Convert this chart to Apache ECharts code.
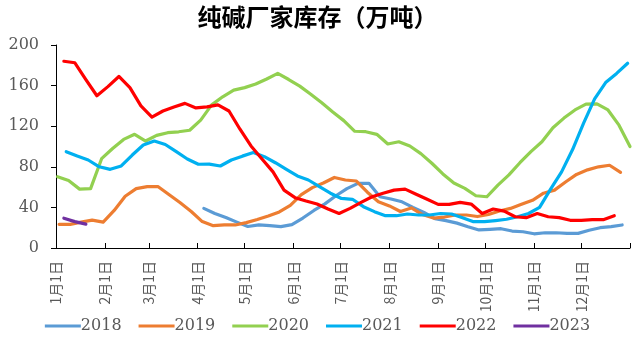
<!DOCTYPE html>
<html>
<head>
<meta charset="utf-8">
<script src="https://cdn.jsdelivr.net/npm/echarts@6/dist/echarts.min.js"></script>
<style>
html,body{margin:0;padding:0;background:#fff;}
#main{width:635px;height:346px;}
</style>
</head>
<body>
<div id="main"></div>
<script>
// ---- data ----
const titleText = '纯碱厂家库存（万吨）';
const monthLabels = ['1月1日','2月1日','3月1日','4月1日','5月1日','6月1日','7月1日','8月1日','9月1日','10月1日','11月1日','12月1日'];
const monthStartDays = [0,31,59,90,120,151,181,212,243,273,304,334];
const yearEndDay = 365;
const seriesNames = ['2018','2019','2020','2021','2022','2023'];

// first week's day-of-year for each year; weekly values follow
const start2018 = 94;
const values2018 = [39,34,30,25.5,21.2,22.7,22,21,23,29.5,37,43.5,51.5,58.5,63.7,63.7,50.5,48.3,45.5,40,35,29,27,24.5,21,17.8,18.4,19,16.7,16,14,15,15,14.5,14.4,17.5,20,21,22.7];

const start2019 = 2;
const values2019 = [23.3,23.3,25.5,27.5,25.5,37,51,58.5,60.4,60.4,52.5,44.5,36,26,22,22.7,22.7,25,28,31.5,35.5,42,52.5,59.5,64,69.5,67,66,55,45.5,41.5,36,39.5,33,29.5,30.5,32.5,32.5,31,33,36.5,39,43,47,54,57,65,72.5,77,80,81.5,74.5];

const start2020 = 1;
const values2020 = [70.2,66.5,58,58.5,88,98,107,112,105.4,111,113.6,114.5,116,126,141,149,155.5,158,161.5,166.5,172,166,159.5,151.5,143,134,125.5,115,114.6,112,102.5,104.7,100.5,93,83.5,73,64,58.8,51.5,50.5,62,72,84,95,104.7,118.5,128,136,141.8,142,136,121,100];

const start2021 = 6.5;
const values2021 = [94.9,90.6,86.7,80,77.5,80.8,91.6,101.5,105.4,102,94.9,87.7,82.5,82.7,80.8,86.7,90.5,94,90,84,77.5,71,67,60.4,54,48.8,48,40.7,35.8,31.8,31.8,33.5,32.5,32.5,34,33.5,29.9,25.9,25.9,27,28.3,30.8,34,40,58,75,97,123,147,163,172,182];

const start2022 = 5;
const values2022 = [184,182.5,166,150,159,169,158,140,129,135,139,142.5,138,139,141,135,117,100.5,87.7,75,57,49.6,46.3,43.3,38.4,34,39,45,50.5,54,57,58,53,48,43,43,45,43.3,34,38.4,36.4,30.8,29.9,34,30.8,29.9,27.3,27.3,27.9,27.9,31.8];

const start2023 = 5;
const values2023 = [29.3,26,23.5];

const seriesColors = ['#5B9BD5','#ED7D31','#92D050','#00B0F0','#FF0000','#7030A0'];

// ---- build ----
const starts = [start2018,start2019,start2020,start2021,start2022,start2023];
const valueLists = [values2018,values2019,values2020,values2021,values2022,values2023];
function weekly(start, vals){ return vals.map((v,i)=>[start + 7*i, v]); }

const chart = echarts.init(document.getElementById('main'), null, {renderer:'canvas'});
const tickDays = monthStartDays.concat([yearEndDay]);

chart.setOption({
  animation:false,
  backgroundColor:'#ffffff',
  title:{
    text:titleText, left:'center', top:0,
    textStyle:{fontFamily:'"Noto Sans CJK SC"', fontSize:24, fontWeight:'bold', color:'#000'}
  },
  legend:{
    bottom:7, left:'center',
    icon:'rect', itemWidth:36, itemHeight:3, itemGap:17,
    textStyle:{fontFamily:'"DejaVu Serif"', fontSize:16, color:'#595959', padding:[0,0,0,-5]},
    data:seriesNames
  },
  grid:{left:56, right:5, top:45, bottom:98, containLabel:false},
  xAxis:{
    type:'value', min:0, max:yearEndDay,
    axisLine:{show:true, lineStyle:{color:'#000', width:1}},
    axisTick:{show:true, inside:true, length:5, customValues:tickDays, lineStyle:{color:'#000'}},
    axisLabel:{
      show:true, rotate:90, margin:13, customValues:monthStartDays,
      fontFamily:'"Noto Sans CJK SC"', fontSize:14, color:'#595959',
      formatter:function(v){ const i = monthStartDays.indexOf(Math.round(v)); return i>=0 ? monthLabels[i] : ''; }
    },
    splitLine:{show:false}
  },
  yAxis:{
    type:'value', min:0, max:200, interval:40,
    axisLine:{show:true, lineStyle:{color:'#000', width:1}},
    axisTick:{show:true, inside:false, length:5, lineStyle:{color:'#000'}},
    axisLabel:{fontFamily:'"DejaVu Serif"', fontSize:16, color:'#595959', margin:17},
    splitLine:{show:false}
  },
  series: seriesNames.map((name,k)=>({
    name:name, type:'line', symbol:'none', showSymbol:false,
    data: weekly(starts[k], valueLists[k]),
    lineStyle:{width:3.2, color:seriesColors[k], join:'round', cap:'round'},
    itemStyle:{color:seriesColors[k]}
  }))
});
</script>
</body>
</html>
